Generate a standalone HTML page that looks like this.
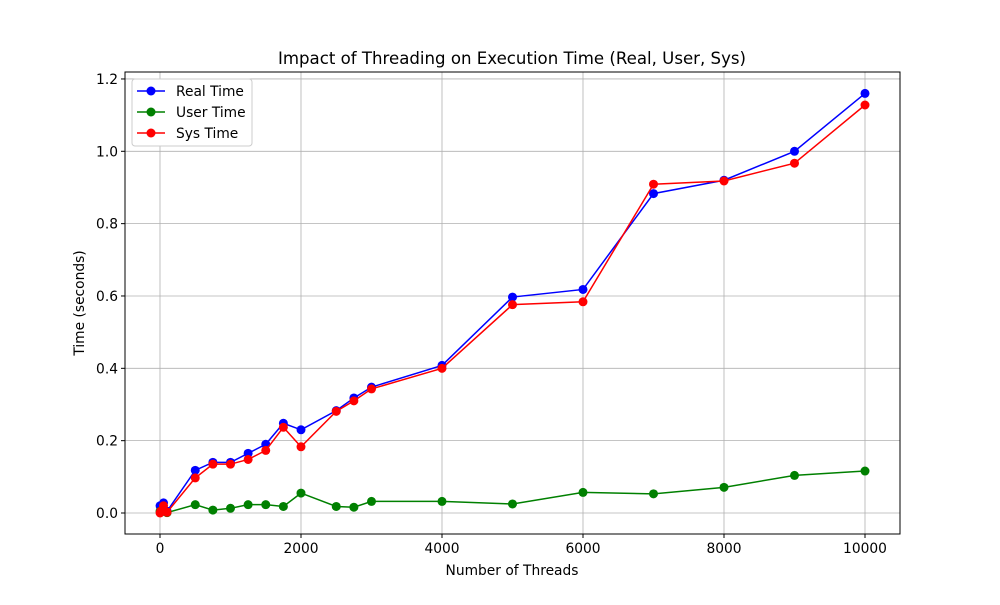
<!DOCTYPE html>
<html><head><meta charset="utf-8"><style>body{margin:0;background:#fff}svg{font-family:"DejaVu Sans","Liberation Sans",sans-serif}</style></head>
<body>
<svg id="c" width="1000" height="600"></svg>
<script>
const threads=[1,10,50,100,500,750,1000,1250,1500,1750,2000,2500,2750,3000,4000,5000,6000,7000,8000,9000,10000];
const realTime=[0.02,0.015,0.028,0.005,0.118,0.14,0.14,0.165,0.19,0.248,0.23,0.283,0.318,0.348,0.408,0.597,0.618,0.883,0.92,1.0,1.16];
const userTime=[0.005,0.003,0.005,0.001,0.023,0.008,0.013,0.023,0.023,0.018,0.055,0.018,0.016,0.032,0.032,0.025,0.057,0.053,0.071,0.104,0.116];
const sysTime=[0.0,0.005,0.02,0.002,0.097,0.135,0.135,0.148,0.173,0.237,0.183,0.281,0.31,0.343,0.4,0.576,0.584,0.909,0.918,0.967,1.128];
const xTicks=[0,2000,4000,6000,8000,10000];
const yTicks=[0.0,0.2,0.4,0.6,0.8,1.0,1.2];
const L=125,R=900,T=72,B=534;
const X=v=>160+v*0.0705, Y=v=>513-v*361.7;
const s=document.getElementById('c'),NS='http://www.w3.org/2000/svg';
function el(t,a,p){const e=document.createElementNS(NS,t);for(const k in a)e.setAttribute(k,a[k]);(p||s).appendChild(e);return e;}
xTicks.forEach(v=>{const g=el('g',{});


el('line',{x1:X(v),x2:X(v),y1:T,y2:B,stroke:'#b0b0b0','stroke-width':0.8},g);
el('line',{x1:X(v),x2:X(v),y1:B,y2:B+4,stroke:'#000'},g);
const t=el('text',{x:X(v),y:B+19,'text-anchor':'middle','font-size':13.8},g);t.textContent=v;});
yTicks.forEach(v=>{const g=el('g',{});


el('line',{x1:L,x2:R,y1:Y(v),y2:Y(v),stroke:'#b0b0b0','stroke-width':0.8},g);
el('line',{x1:L-4,x2:L,y1:Y(v),y2:Y(v),stroke:'#000'},g);
const t=el('text',{x:L-7,y:Y(v)+5,'text-anchor':'end','font-size':13.8},g);t.textContent=v.toFixed(1);});
const fr=el('rect',{x:L,y:T,width:R-L,height:B-T,fill:'none',stroke:'#000','stroke-width':1});


[[realTime,'blue','real-time-series'],[userTime,'green','user-time-series'],[sysTime,'red','sys-time-series']].forEach(([d,c,n])=>{
const g=el('g',{});


el('polyline',{points:d.map((v,i)=>X(threads[i])+','+Y(v)).join(' '),fill:'none',stroke:c,'stroke-width':1.5},g);
d.forEach((v,i)=>{const p=el('circle',{cx:X(threads[i]),cy:Y(v),r:4.5,fill:c},g);

});});
let t=el('text',{x:512,y:64,'text-anchor':'middle','font-size':16.6});t.textContent='Impact of Threading on Execution Time (Real, User, Sys)';

t=el('text',{x:512,y:575,'text-anchor':'middle','font-size':13.8});t.textContent='Number of Threads';

t=el('text',{x:84,y:303,'text-anchor':'middle','font-size':13.8,transform:'rotate(-90 84 303)'});t.textContent='Time (seconds)';

const lg=el('g',{});


el('rect',{x:132,y:79,width:120,height:67,rx:3,fill:'#fff',stroke:'#ccc'},lg);
[['Real Time','blue'],['User Time','green'],['Sys Time','red']].forEach(([n,c],i)=>{const y=91+i*21;
const g=el('g',{},lg);


el('line',{x1:137,x2:165,y1:y,y2:y,stroke:c,'stroke-width':1.5},g);
el('circle',{cx:151,cy:y,r:4.5,fill:c},g);
const tt=el('text',{x:176,y:y+5,'font-size':13.8},g);tt.textContent=n;});
</script>
</body></html>
